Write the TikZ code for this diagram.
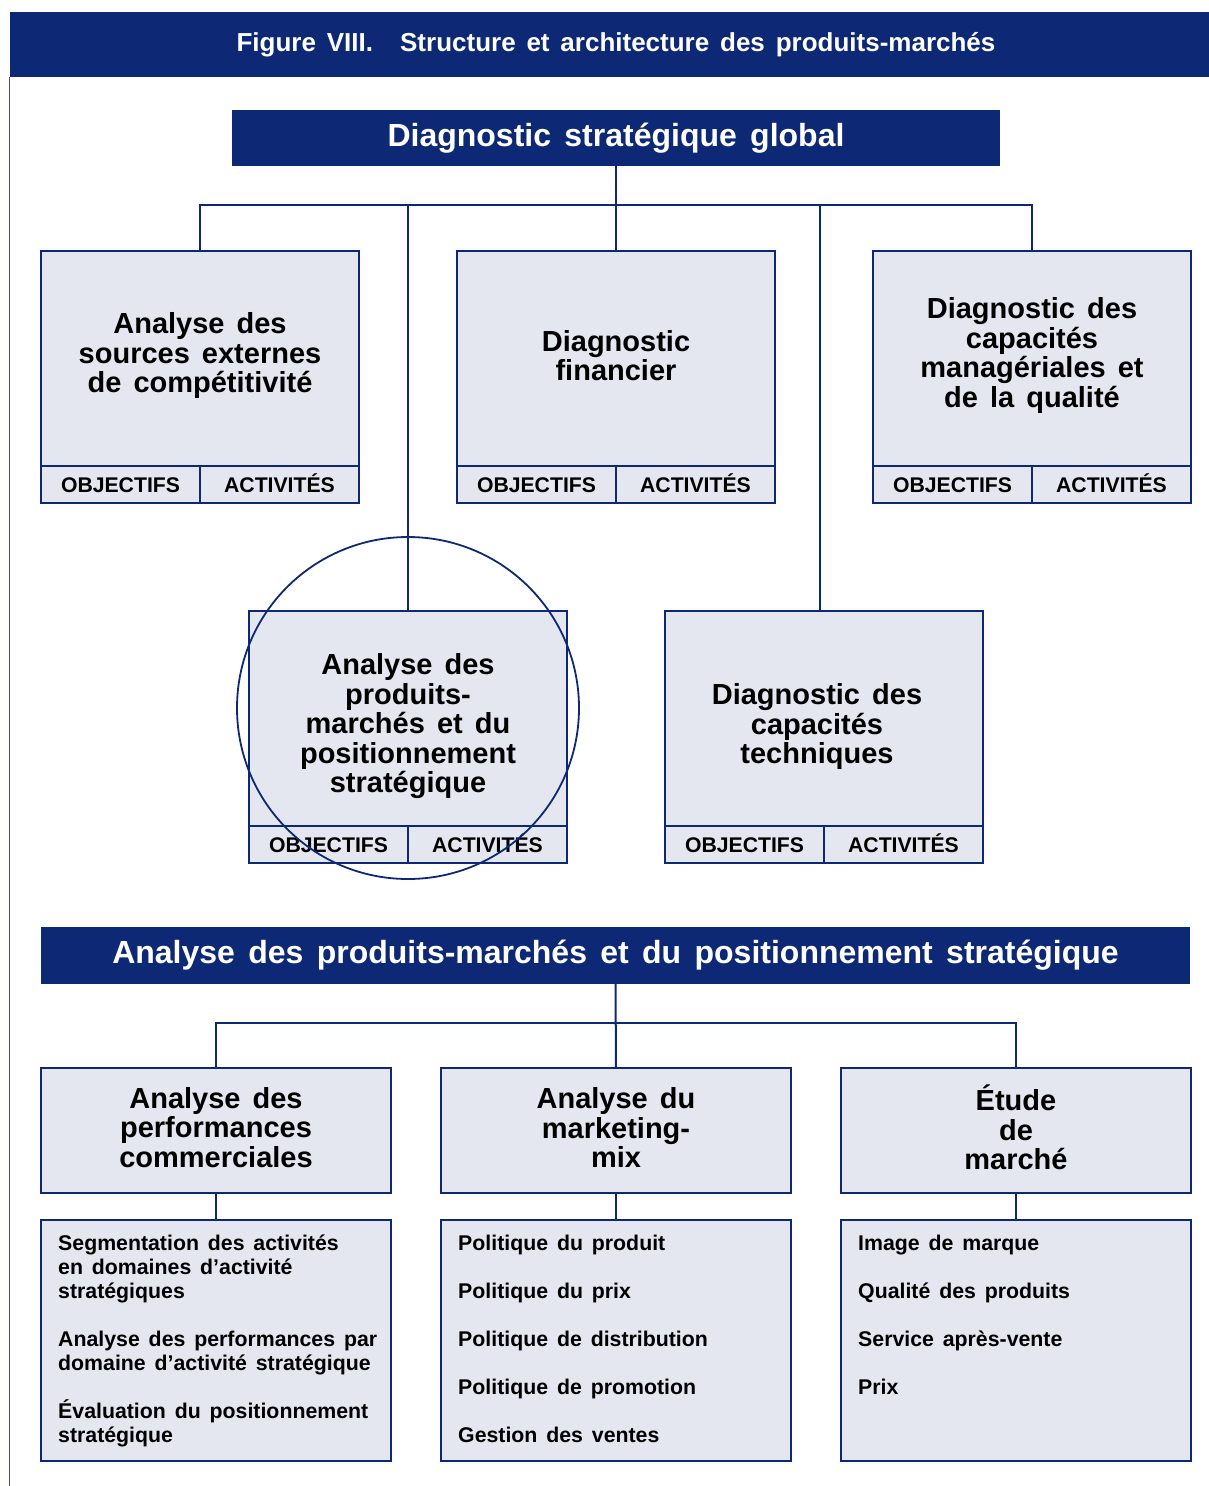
\documentclass[tikz,border=0pt]{standalone}
\usepackage{fontspec}
\setmainfont{Liberation Sans}[WordSpace=1.5]
\usetikzlibrary{positioning}
\definecolor{navy}{RGB}{13,40,117}
\definecolor{boxfill}{RGB}{229,231,240}

\tikzset{
  banner/.style={fill=navy, text=white, inner sep=0pt, font=\bfseries\fontsize{32}{36}\selectfont},
  mainbox/.style={draw=navy, line width=2.5pt, fill=boxfill, inner sep=0pt, outer sep=0pt,
    minimum width=318pt, minimum height=215pt},
  boxtext/.style={inner sep=0pt, align=center, font=\bfseries\fontsize{29}{29.5}\selectfont},
  tagbox/.style={draw=navy, line width=2.5pt, fill=boxfill, inner sep=0pt, outer sep=0pt,
    minimum width=159pt, minimum height=37pt, text height=15.2pt, text depth=0pt,
    font=\bfseries\fontsize{21.2}{24}\selectfont},
  headbox/.style={mainbox, minimum width=350pt, minimum height=125pt},
  listbox/.style={mainbox, minimum width=350pt, minimum height=241pt},
  listtext/.style={inner sep=0pt, align=left, anchor=north west, font=\bfseries\fontsize{21.3}{24}\selectfont},
  link/.style={draw=navy, line width=2pt}
}

\begin{document}
\begin{tikzpicture}[x=1pt, y=-1pt]
\useasboundingbox (0,0) rectangle (1209,1486);

% title bar and frame
\node[banner, minimum width=1199pt, minimum height=65pt, font=\bfseries\fontsize{26}{30}\selectfont] (title) at (609.5,44.5)
  {\hspace{13pt}Figure VIII.\hspace{27pt}Structure et architecture des produits-marchés};
\draw[navy!80, line width=1.2pt] (title.south west) -- ++(0,1409);

% upper part
\node[banner, minimum width=768pt, minimum height=56pt] (diag) at (616,138) {Diagnostic stratégique global};

\node[mainbox] (b1) at (200,358.5) {};
\node[mainbox] (b2) at (616,358.5) {};
\node[mainbox] (b3) at (1032,358.5) {};
\node[mainbox] (b4) at (408,718.5) {};
\node[mainbox] (b5) at (824,718.5) {};

\node[boxtext] (b1t) at ([yshift=3pt]b1.center) {Analyse des\\sources externes\\de compétitivité};
\node[boxtext] (b2t) at ([yshift=3pt]b2.center) {Diagnostic\\financier};
\node[boxtext] (b3t) at ([yshift=3pt]b3.center) {Diagnostic des\\capacités\\managériales et\\de la qualité};
\node[boxtext] (b4t) at ([yshift=-8pt]b4.center) {Analyse des\\produits-\\marchés et du\\positionnement\\stratégique};
\node[boxtext] (b5t) at ([xshift=-7pt,yshift=-8pt]b5.center) {Diagnostic des\\capacités\\techniques};

\foreach \b in {b1,b2,b3,b4,b5} {
  \node[tagbox, anchor=north west] (\b o) at (\b.south west) {OBJECTIFS};
  \node[tagbox, anchor=north east] (\b a) at (\b.south east) {ACTIVITÉS};
}

\coordinate (j) at (616,205);
\draw[link] (diag.south) -- (b2.north);
\draw[link] (b1.north) -- (b1.north |- j) -- (b3.north |- j) -- (b3.north);
\draw[link] (b4.north) -- (b4.north |- j);
\draw[link] ([xshift=-4pt]b5.north) -- ([xshift=-4pt]b5.north |- j);

\node[draw=navy, line width=1.8pt, circle, minimum size=342pt] (ring) at (408,708) {};

% lower part
\node[banner, minimum width=1149pt, minimum height=57pt] (pm) at (615.5,955.5)
  {Analyse des produits-marchés et du positionnement stratégique};

\node[headbox] (h1) at (216,1130.5) {};
\node[headbox] (h2) at (616,1130.5) {};
\node[headbox] (h3) at (1016,1130.5) {};

\node[boxtext] (h1t) at ([yshift=3pt]h1.center) {Analyse des\\performances\\commerciales};
\node[boxtext] (h2t) at ([yshift=3pt]h2.center) {Analyse du\\marketing-\\mix};
\node[boxtext] (h3t) at ([yshift=3pt]h3.center) {Étude\\de\\marché};

\node[listbox] (l1) at (216,1340.5) {};
\node[listbox] (l2) at (616,1340.5) {};
\node[listbox] (l3) at (1016,1340.5) {};

\coordinate (k) at (616,1023);
\draw[link] (pm.south) -- (h2.north);
\draw[link] (h1.north) -- (h1.north |- k) -- (h3.north |- k) -- (h3.north);
\foreach \i in {1,2,3} \draw[link] (h\i.south) -- (l\i.north);

\node[listtext] (t1) at (58,1234.5) {Segmentation des activités\\en domaines d’activité\\stratégiques\\[24pt]
  Analyse des performances par\\domaine d’activité stratégique\\[24pt]
  Évaluation du positionnement\\stratégique};
\node[listtext] (t2) at (458,1234.5) {Politique du produit\\[24pt]Politique du prix\\[24pt]
  Politique de distribution\\[24pt]Politique de promotion\\[24pt]Gestion des ventes};
\node[listtext] (t3) at (858,1234.5) {Image de marque\\[24pt]Qualité des produits\\[24pt]
  Service après-vente\\[24pt]Prix};
\end{tikzpicture}
\end{document}
